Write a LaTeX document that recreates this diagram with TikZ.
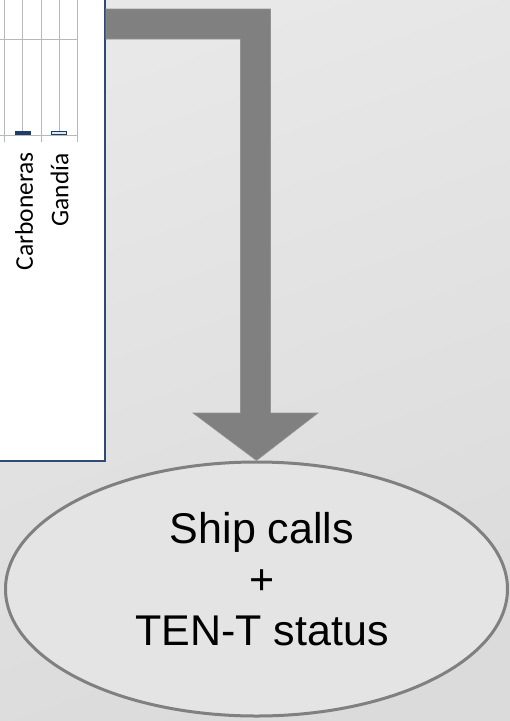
\documentclass[tikz,border=0pt]{standalone}
\usepackage{fontspec}
\setmainfont{Liberation Sans}
\newfontfamily\chartfont{Carlito}
\usetikzlibrary{shapes.geometric}
\definecolor{bgtop}{HTML}{E8E8E8}
\definecolor{bgbot}{HTML}{DBDBDB}
\definecolor{framecol}{HTML}{2E4B78}
\definecolor{gridcol}{HTML}{B8B8B8}
\definecolor{barcol}{HTML}{1F3D6B}
\definecolor{barlight}{HTML}{DCE6F2}
\definecolor{arrowcol}{HTML}{808080}
\definecolor{ellfill}{HTML}{E4E4E4}
\tikzset{
  gridline/.style={draw=gridcol, line width=1pt},
  catlabel/.style={font=\chartfont\fontsize{25.5}{30}\selectfont, rotate=90, anchor=east, inner sep=0pt},
  bigarrow/.style={fill=arrowcol, draw=arrowcol!85!white, line width=0.6pt},
  outcome/.style={ellipse, draw=arrowcol, line width=3pt, fill=ellfill, inner sep=0pt,
                  minimum width=502pt, minimum height=254pt},
  outtext/.style={font=\fontsize{43}{51}\selectfont, align=center, inner sep=0pt}
}
\begin{document}
\begin{tikzpicture}[x=1pt, y=-1pt]
  % page background
  \useasboundingbox (0,0) rectangle (510,721);
  \shade[top color=bgtop, bottom color=bgbot, shading angle=20] (0,0) rectangle (510,721);

  % chart panel (clipped at the page edge)
  \fill[white] (0,0) rectangle (105,461);
  \draw[framecol, line width=2pt] (105,0) -- (105,461) -- (0,461);
  \coordinate (chart) at (105,235);

  % gridlines and axis
  \foreach \gx in {22.5,59}{\draw[gridline] (\gx,0) -- (\gx,135);}
  \foreach \gx in {4,41,77}{\draw[gridline] (\gx,0) -- (\gx,142);}
  \draw[gridline] (0,39) -- (77,39);
  \draw[gridline] (0,135) -- (77,135);

  % bars
  \fill[barcol] (15,131) rectangle (31,134.5);
  \draw[barcol, fill=barlight, line width=1.3pt] (51.5,131.5) rectangle (66.5,134.5);

  % category labels
  \node[catlabel] (carb) at (24,152) {Carboneras};
  \node[catlabel] (gand) at (59.5,153) {Gandía};

  % outcome ellipse
  \node[outcome] (calls) at (256.5,589) {};
  \node[outtext] (callstext) at (262,579) {Ship calls\\+\\TEN-T status};

  % bent block arrow from the chart to the ellipse
  \path[bigarrow] (106,9) -- (270.5,9) -- (270.5,413) -- (318,413)
        -- (calls.north) -- (193,413) -- (240.5,413) -- (240.5,39)
        -- (106,39) -- cycle;
\end{tikzpicture}
\end{document}
